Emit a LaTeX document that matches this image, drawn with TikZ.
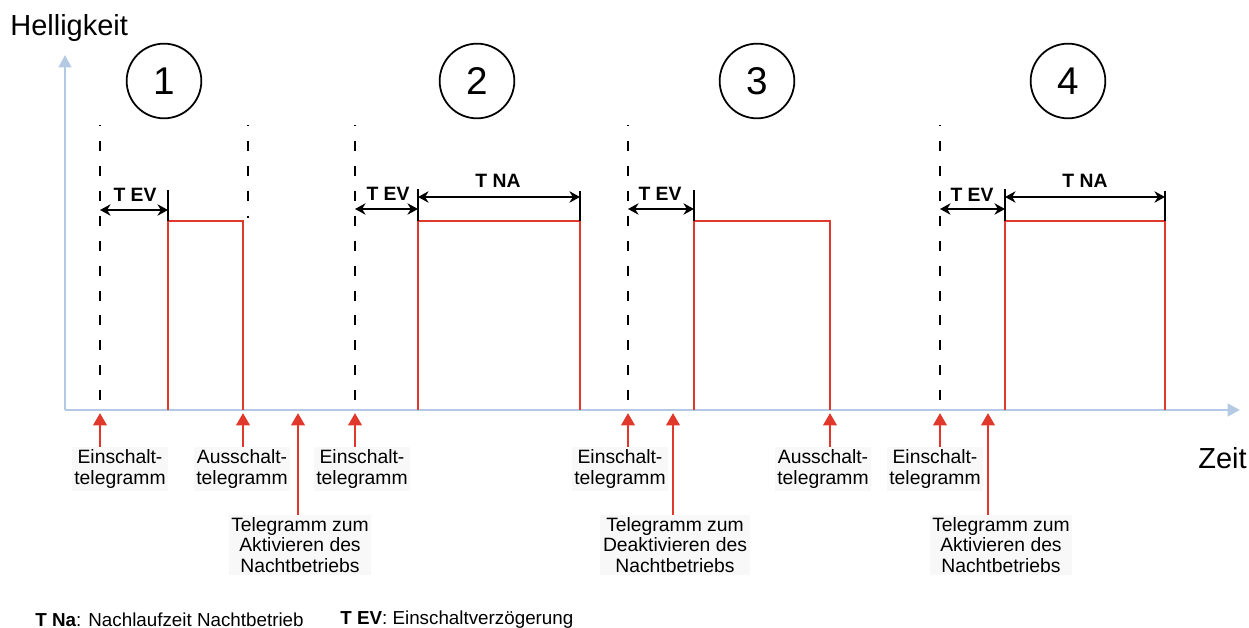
\documentclass[tikz,border=0pt]{standalone}
\usepackage{fontspec}
\setmainfont{Liberation Sans}
\usetikzlibrary{arrows.meta,calc}
\definecolor{AxisBlue}{HTML}{B4C9E4}
\definecolor{PulseRed}{HTML}{E0392B}
\definecolor{LabelBg}{HTML}{F8F8F8}

\tikzset{
  axis/.style={AxisBlue,line width=1.7pt,-{Triangle[length=7pt,width=7pt]}},
  pulse/.style={PulseRed,line width=1.1pt},
  marker/.style={black,line width=1.5pt,dash pattern=on 5.7pt off 8.5pt,dash phase=5.2pt},
  span/.style={black,line width=1.7pt,{Stealth[length=6pt,width=6.5pt]}-{Stealth[length=6pt,width=6.5pt]}},
  tick/.style={black,line width=0.6pt},
  sig/.style={PulseRed,line width=1.7pt,-{Triangle[length=7pt,width=7.5pt]}},
  caption/.style={fill=LabelBg,inner sep=1.5pt,align=center,font=\fontsize{11}{11.5}\selectfont},
  spanlabel/.style={font=\fontsize{11}{12}\selectfont\bfseries,inner sep=0pt},
  phase/.style={circle,draw,line width=1pt,minimum size=42.5pt,inner sep=0pt,font=\fontsize{22}{24}\selectfont},
  legend/.style={anchor=west,inner sep=0pt,font=\fontsize{10.7}{12}\selectfont},
}

\begin{document}
\begin{tikzpicture}[x=0.02cm,y=-0.02cm]
  \useasboundingbox (0,0) rectangle (1249,628);

  % axes
  \coordinate (origin) at (65,410);
  \coordinate (ytop) at (65,55);
  \coordinate (xend) at (1240,410);
  \draw[axis] (origin) -- (ytop);
  \draw[axis] (origin) -- (xend);
  \node[anchor=west,inner sep=0pt,font=\fontsize{16.5}{18}\selectfont] (helligkeit) at (10,28) {Helligkeit};
  \node[anchor=east,inner sep=0pt,font=\fontsize{16.5}{18}\selectfont] (zeit) at (1247,458) {Zeit};

  % phases
  \node[phase] (p1) at (164,81) {1};
  \node[phase] (p2) at (477,81) {2};
  \node[phase] (p3) at (757,81) {3};
  \node[phase] (p4) at (1068,81) {4};

  % telegram markers
  \foreach \x in {100,355,628,940}
    \draw[marker] (\x,125) -- (\x,410);
  \draw[marker] (248,125) -- (248,218);

  % light on
  \draw[pulse] (168,410) |- (243,221) -- (243,410);
  \draw[pulse] (418,410) |- (580,221) -- (580,410);
  \draw[pulse] (694,410) |- (830,221) -- (830,410);
  \draw[pulse] (1005,410) |- (1165,221) -- (1165,410);

  % delays
  \draw[tick] (168,190) -- (168,221);
  \draw[tick] (418,189) -- (418,221);
  \draw[tick] (580,191) -- (580,221);
  \draw[tick] (694,190) -- (694,221);
  \draw[tick] (1005,189) -- (1005,221);
  \draw[tick] (1165,191) -- (1165,221);
  \draw[span] (100,210) -- (168,210);
  \draw[span] (355,209) -- (418,209);
  \draw[span] (418,197) -- (580,197);
  \draw[span] (628,209) -- (694,209);
  \draw[span] (940,209) -- (1005,209);
  \draw[span] (1005,197) -- (1165,197);
  \node[spanlabel] (tev1) at (135,195) {T EV};
  \node[spanlabel] (tev2) at (388,194) {T EV};
  \node[spanlabel] (tna2) at (498,181) {T NA};
  \node[spanlabel] (tev3) at (660,194) {T EV};
  \node[spanlabel] (tev4) at (972,195) {T EV};
  \node[spanlabel] (tna4) at (1085,181) {T NA};

  % telegrams
  \coordinate (s1) at (100,413);
  \coordinate (s2) at (243,413);
  \coordinate (s3) at (298,413);
  \coordinate (s4) at (355,413);
  \coordinate (s5) at (628,413);
  \coordinate (s6) at (673,413);
  \coordinate (s7) at (830,413);
  \coordinate (s8) at (940,413);
  \coordinate (s9) at (988,413);
  \node[caption] (ein1) at (120,469) {Einschalt-\\telegramm};
  \node[caption] (aus1) at (242,469) {Ausschalt-\\telegramm};
  \node[caption] (akt1) at (300,545) {Telegramm zum\\Aktivieren des\\Nachtbetriebs};
  \node[caption] (ein2) at (362,469) {Einschalt-\\telegramm};
  \node[caption] (ein3) at (620,469) {Einschalt-\\telegramm};
  \node[caption] (deakt) at (675,545) {Telegramm zum\\Deaktivieren des\\Nachtbetriebs};
  \node[caption] (aus3) at (823,469) {Ausschalt-\\telegramm};
  \node[caption] (ein4) at (935,469) {Einschalt-\\telegramm};
  \node[caption] (akt2) at (1001,545) {Telegramm zum\\Aktivieren des\\Nachtbetriebs};
  \draw[sig] (s1 |- ein1.north) -- (s1);
  \draw[sig] (s2 |- aus1.north) -- (s2);
  \draw[sig] (s3 |- akt1.north) -- (s3);
  \draw[sig] (s4 |- ein2.north) -- (s4);
  \draw[sig] (s5 |- ein3.north) -- (s5);
  \draw[sig] (s6 |- deakt.north) -- (s6);
  \draw[sig] (s7 |- aus3.north) -- (s7);
  \draw[sig] (s8 |- ein4.north) -- (s8);
  \draw[sig] (s9 |- akt2.north) -- (s9);

  % legend
  \node[legend] (legna) at (35,620) {\textbf{T Na}: Nachlaufzeit Nachtbetrieb};
  \node[legend] (legev) at (340,620) {\textbf{T EV}: Einschaltverzögerung};
\end{tikzpicture}
\end{document}
